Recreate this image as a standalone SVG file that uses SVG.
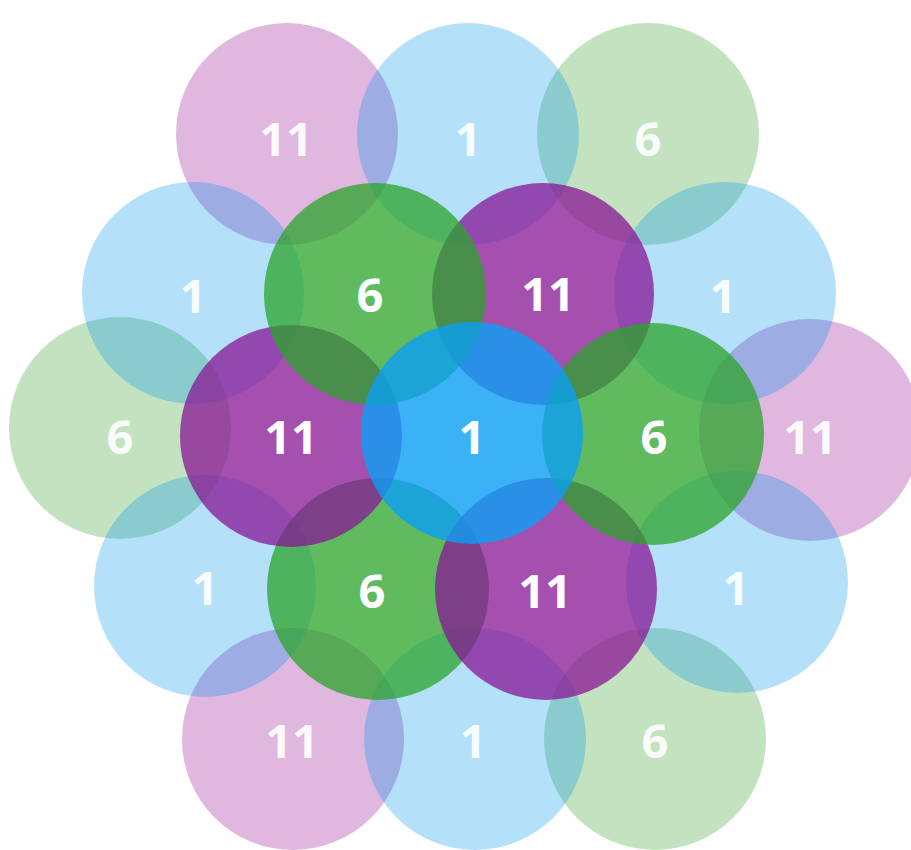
<svg xmlns="http://www.w3.org/2000/svg" width="911" height="850" viewBox="0 0 911 850">
<style>
.ob{fill:#0898ee;fill-opacity:0.3}
.og{fill:#379e2d;fill-opacity:0.3}
.op{fill:#941294;fill-opacity:0.3}
.ig{fill:#2ba42a;fill-opacity:0.75}
.ip{fill:#871694;fill-opacity:0.75}
.cb{fill:#0b9ff4;fill-opacity:0.8}
text{font-family:"Open Sans",Lato,"Liberation Sans",sans-serif;font-weight:700;font-size:47px;fill:#ffffff;text-anchor:middle}
.ot{fill-opacity:0.92}
</style>
<rect width="911" height="850" fill="#ffffff"/>
<g id="outer-ring">
<g id="outer-pink-tl"><circle class="op" cx="287" cy="134" r="111"/></g>
<g id="outer-pink-r"><circle class="op" cx="810" cy="430" r="111"/></g>
<g id="outer-pink-bl"><circle class="op" cx="293" cy="739" r="111"/></g>
<g id="outer-green-tr"><circle class="og" cx="648" cy="134" r="111"/></g>
<g id="outer-green-l"><circle class="og" cx="120" cy="428" r="111"/></g>
<g id="outer-green-br"><circle class="og" cx="655" cy="739" r="111"/></g>
<g id="outer-blue-t"><circle class="ob" cx="468" cy="134" r="111"/></g>
<g id="outer-blue-ul"><circle class="ob" cx="193" cy="293" r="111"/></g>
<g id="outer-blue-ur"><circle class="ob" cx="725" cy="293" r="111"/></g>
<g id="outer-blue-ll"><circle class="ob" cx="205" cy="586" r="111"/></g>
<g id="outer-blue-lr"><circle class="ob" cx="737" cy="582" r="111"/></g>
<g id="outer-blue-b"><circle class="ob" cx="475" cy="739" r="111"/></g>
</g>
<g id="inner-ring">
<g id="inner-green-bl"><circle class="ig" cx="378" cy="589" r="111"/></g>
<g id="inner-purple-l"><circle class="ip" cx="291" cy="436" r="111"/></g>
<g id="inner-purple-tr"><circle class="ip" cx="543" cy="294" r="111"/></g>
<g id="inner-purple-br"><circle class="ip" cx="546" cy="589" r="111"/></g>
<g id="inner-green-tl"><circle class="ig" cx="375" cy="294" r="111"/></g>
<g id="inner-green-r"><circle class="ig" cx="653" cy="434" r="111"/></g>
</g>
<g id="center"><circle class="cb" cx="472" cy="433" r="111"/></g>
<g id="labels">
<text class="ot" x="286" y="156">11</text>
<text class="ot" x="468" y="156">1</text>
<text class="ot" x="648" y="156">6</text>
<text class="ot" x="193" y="313">1</text>
<text x="370" y="312">6</text>
<text x="548" y="311">11</text>
<text class="ot" x="723" y="313">1</text>
<text class="ot" x="120" y="454">6</text>
<text x="291" y="454">11</text>
<text x="472" y="454">1</text>
<text x="654" y="454">6</text>
<text class="ot" x="810" y="454">11</text>
<text class="ot" x="205" y="605">1</text>
<text x="372" y="608">6</text>
<text x="545" y="608">11</text>
<text class="ot" x="736" y="605">1</text>
<text class="ot" x="292" y="758">11</text>
<text class="ot" x="473" y="758">1</text>
<text class="ot" x="655" y="758">6</text>
</g>
</svg>
